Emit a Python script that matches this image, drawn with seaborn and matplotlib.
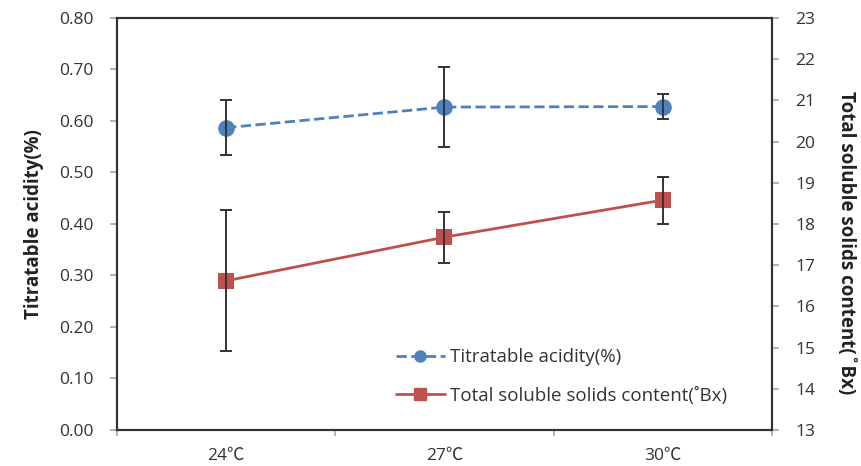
import numpy as np
import pandas as pd
import matplotlib
matplotlib.use("Agg")
import matplotlib.pyplot as plt
from matplotlib.lines import Line2D
import seaborn as sns

# Values
temps = ["24℃", "27℃", "30℃"]
acidity = [0.587, 0.627, 0.628]
acidity_err = [0.053, 0.077, 0.024]
tss = [16.62, 17.68, 18.58]
tss_err = [1.71, 0.62, 0.57]

blue = "#4F81BD"
red = "#C0504D"

sns.set_theme(style="white")
plt.rcParams["font.family"] = ["Open Sans", "Noto Sans CJK KR", "DejaVu Sans"]

df = pd.DataFrame({"Temp": temps, "Acidity": acidity, "TSS": tss})

fig = plt.figure(figsize=(8.62, 4.66), dpi=100)
ax = fig.add_axes([0.1357, 0.0773, 0.7599, 0.8841])
ax2 = ax.twinx()

# left axis: titratable acidity
sns.lineplot(data=df, x="Temp", y="Acidity", ax=ax, color=blue, linewidth=2,
             linestyle="--", marker="o", markersize=12, markeredgewidth=0, zorder=3)
xpos = np.arange(len(temps))
ax.errorbar(xpos, acidity, yerr=acidity_err, fmt="none", ecolor="#333333",
            elinewidth=1.4, capsize=4, capthick=1.4, zorder=4)

# right axis: total soluble solids
sns.lineplot(data=df, x="Temp", y="TSS", ax=ax2, color=red, linewidth=2,
             marker="s", markersize=12, markeredgewidth=0, zorder=3)
ax2.errorbar(xpos, tss, yerr=tss_err, fmt="none", ecolor="#333333",
             elinewidth=1.4, capsize=4, capthick=1.4, zorder=4)

ax.set_xlim(-0.5, len(temps) - 0.5)
ax.set_ylim(0, 0.8)
ax2.set_ylim(13, 23)
ax.set_yticks(np.arange(0, 0.81, 0.1))
ax.set_yticklabels([f"{v:.2f}" for v in np.arange(0, 0.81, 0.1)])
ax2.set_yticks(np.arange(13, 24, 1))

# boundary ticks without labels, category labels on minor ticks
ax.set_xticks(np.arange(-0.5, len(temps), 1.0))
ax.set_xticklabels([])
ax.set_xticks(xpos, minor=True)
ax.set_xticklabels(temps, minor=True)
ax.tick_params(axis="x", which="major", length=4, color="#aaaaaa", direction="out", bottom=True)
ax.tick_params(axis="x", which="minor", length=0, pad=13, labelsize=12.5, labelcolor="#333333")
ax.tick_params(axis="y", length=5, direction="out", left=True, pad=12, labelsize=12.5,
               labelcolor="#333333", color="#aaaaaa")
ax2.tick_params(axis="y", length=5, direction="out", right=True, pad=12, labelsize=12.5,
                labelcolor="#333333", color="#aaaaaa")

ax.set_xlabel("")
ax.set_ylabel("Titratable acidity(%)", fontsize=13.5, fontweight="bold", color="#222222", labelpad=11)
ax2.set_ylabel("Total soluble solids content(˚Bx)", fontsize=13.5, fontweight="bold",
               color="#222222", rotation=270, labelpad=29)
ax2.yaxis.label.set_y(0.455)

for a in (ax, ax2):
    for s in a.spines.values():
        s.set_color("#333333")
        s.set_linewidth(1.5)
    a.grid(False)

handles = [
    Line2D([], [], color=blue, linestyle="--", linewidth=2, marker="o", markersize=8),
    Line2D([], [], color=red, linestyle="-", linewidth=2, marker="s", markersize=8),
]
ax2.legend(handles, ["Titratable acidity(%)", "Total soluble solids content(˚Bx)"],
           loc="lower left", bbox_to_anchor=(0.4, 0.02), frameon=False, fontsize=13.5,
           handlelength=2.6, handletextpad=0.3, labelspacing=1.1, labelcolor="#333333")

fig.savefig("out.png", dpi=100)
